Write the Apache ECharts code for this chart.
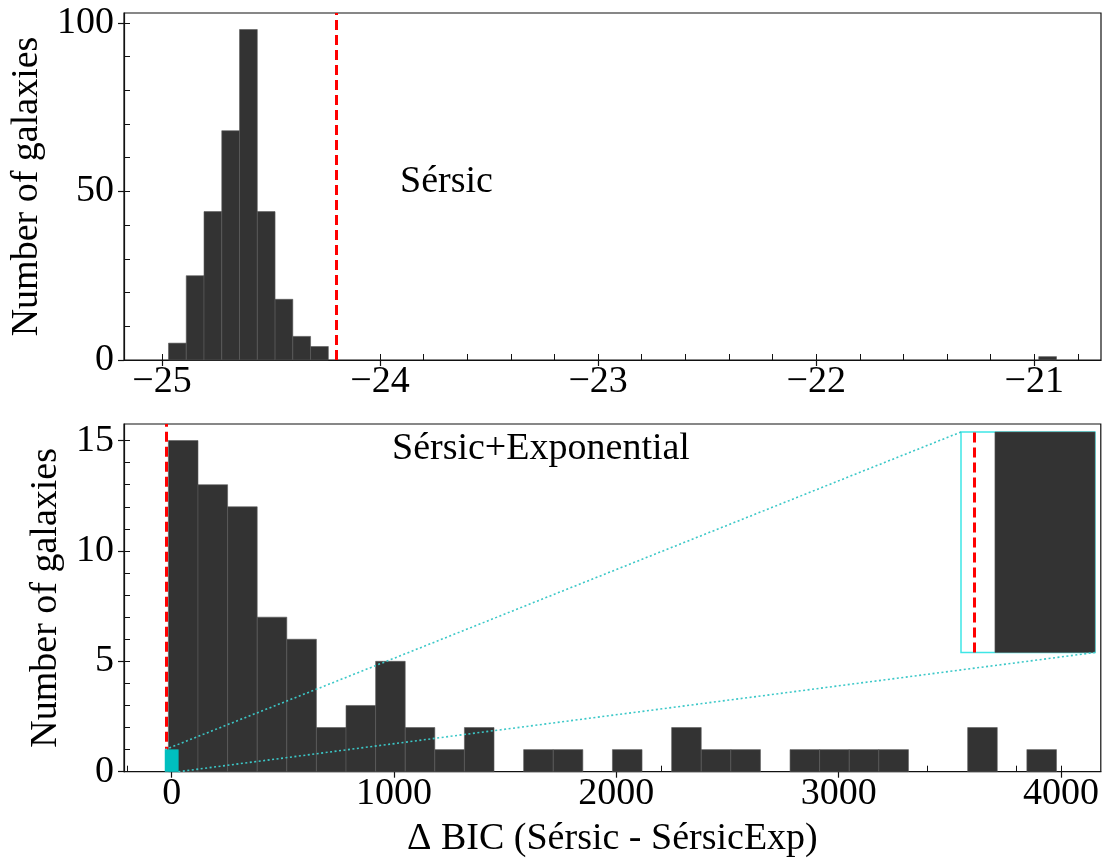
<!DOCTYPE html>
<html><head><meta charset="utf-8">
<script src="https://cdn.jsdelivr.net/npm/echarts@6/dist/echarts.min.js"></script>
<style>html,body{margin:0;padding:0;background:#fff}#c{width:1102px;height:864px}</style>
</head><body><div id="c"></div>
<script>
// ---------------- data ----------------
// Top panel: Delta BIC for galaxies preferring the single Sérsic model
const topBinRange = [-24.970, -20.898];          // histogram range (50 bins)
const topCounts = [5, 25, 44, 68, 98, 44, 18, 7, 4, 0,
                   0, 0, 0, 0, 0, 0, 0, 0, 0, 0,
                   0, 0, 0, 0, 0, 0, 0, 0, 0, 0,
                   0, 0, 0, 0, 0, 0, 0, 0, 0, 0,
                   0, 0, 0, 0, 0, 0, 0, 0, 0, 1];
const topXRange = [-25.174, -20.694];
const topYRange = [0, 102.9];
const topXTicks = [-25, -24, -23, -22, -21];
const topXMinor = [-25, -24.8, -24.6, -24.4, -24.2, -24, -23.8, -23.6, -23.4, -23.2, -23,
                   -22.8, -22.6, -22.4, -22.2, -22, -21.8, -21.6, -21.4, -21.2, -21, -20.8];
const topYTicks = [0, 50, 100];
const topYMinor = [0, 10, 20, 30, 40, 50, 60, 70, 80, 90, 100];

// Bottom panel: galaxies preferring Sérsic+Exponential
const botBinRange = [-14.8, 3979.6];             // histogram range (30 bins)
const botCounts = [15, 13, 12, 7, 6, 2, 3, 5, 2, 1,
                   2, 0, 1, 1, 0, 1, 0, 2, 1, 1,
                   0, 1, 1, 1, 1, 0, 0, 2, 0, 1];
const botXRange = [-214.5, 4179];
const botYRange = [0, 15.75];
const botXTicks = [0, 1000, 2000, 3000, 4000];
const botXMinor = [-200, 0, 200, 400, 600, 800, 1000, 1200, 1400, 1600, 1800, 2000, 2200,
                   2400, 2600, 2800, 3000, 3200, 3400, 3600, 3800, 4000];
const botYTicks = [0, 5, 10, 15];
const botYMinor = [0, 1, 2, 3, 4, 5, 6, 7, 8, 9, 10, 11, 12, 13, 14, 15];

// threshold line and zoom window
const threshold = -24.2;
const insetXRange = [-30, 30];
const insetYRange = [0, 1];

const topLabel = 'Sérsic';
const botLabel = 'Sérsic+Exponential';
const xTitle = 'Δ BIC (Sérsic - SérsicExp)';
const yTitle = 'Number of galaxies';

// ---------------- chart ----------------
const FONT = "'Liberation Serif','Times New Roman',serif";
const FS = 38;
const BAR = '#333333';
const EDGE = '#5a5a5a';
const RED = '#ff0000';

function mkBins(range, counts) {
  const n = counts.length, w = (range[1] - range[0]) / n;
  return counts.map((c, i) => [range[0] + i * w, range[0] + (i + 1) * w, c]);
}
function rectRender(fill, stroke, lw) {
  return function (params, api) {
    const x0 = api.value(0), x1 = api.value(1), c = api.value(2);
    const y0 = api.value(3) || 0;
    if (!(c > y0)) return;
    const p0 = api.coord([x0, y0]), p1 = api.coord([x1, c]);
    const cs = params.coordSys;
    const r = echarts.graphic.clipRectByRect(
      {x: p0[0], y: p1[1], width: p1[0] - p0[0], height: p0[1] - p1[1]},
      {x: cs.x, y: cs.y, width: cs.width, height: cs.height});
    if (!r) return;
    return {type: 'rect', shape: r, style: {fill: fill, stroke: stroke, lineWidth: lw}};
  };
}
const fmt = v => String(v).replace('-', '\u2212');

function majorX(grid, range, ticks, extra) {
  return Object.assign({
    type: 'value', gridIndex: grid, min: range[0], max: range[1], position: 'bottom',
    axisLine: {show: true, onZero: false, lineStyle: {color: '#111', width: 1.2}},
    axisTick: {show: true, inside: false, length: 6, customValues: ticks, lineStyle: {color: '#111', width: 1.2}},
    axisLabel: {show: true, customValues: ticks, margin: 3, formatter: fmt,
                fontFamily: FONT, fontSize: FS, color: '#000'},
    splitLine: {show: false}
  }, extra || {});
}
function minorX(grid, range, ticks) {
  return {
    type: 'value', gridIndex: grid, min: range[0], max: range[1], position: 'bottom',
    axisLine: {show: false, onZero: false},
    axisTick: {show: true, inside: true, length: 6, customValues: ticks, lineStyle: {color: '#111', width: 1}},
    axisLabel: {show: false}, splitLine: {show: false}
  };
}
function majorY(grid, range, ticks, gap) {
  return {
    type: 'value', gridIndex: grid, min: range[0], max: range[1], position: 'left',
    axisLine: {show: true, onZero: false, lineStyle: {color: '#111', width: 1.2}},
    axisTick: {show: true, inside: false, length: 6, customValues: ticks, lineStyle: {color: '#111', width: 1.2}},
    axisLabel: {show: true, customValues: ticks, margin: 10, formatter: fmt,
                fontFamily: FONT, fontSize: FS, color: '#000'},
    splitLine: {show: false},
    name: yTitle, nameLocation: 'middle', nameGap: gap,
    nameTextStyle: {fontFamily: FONT, fontSize: FS, color: '#000'}
  };
}
function minorY(grid, range, ticks) {
  return {
    type: 'value', gridIndex: grid, min: range[0], max: range[1], position: 'left',
    axisLine: {show: false, onZero: false},
    axisTick: {show: true, inside: true, length: 6, customValues: ticks, lineStyle: {color: '#111', width: 1}},
    axisLabel: {show: false}, splitLine: {show: false}
  };
}
function hiddenAxis(grid, range) {
  return {type: 'value', gridIndex: grid, min: range[0], max: range[1],
          axisLine: {show: false}, axisTick: {show: false}, axisLabel: {show: false}, splitLine: {show: false}};
}
function thresholdLine() {
  return {
    symbol: ['none', 'none'], silent: true, animation: false,
    label: {show: false}, emphasis: {disabled: true},
    lineStyle: {color: RED, type: [10, 5], width: 3, opacity: 1},
    data: [{xAxis: threshold}]
  };
}

const chart = echarts.init(document.getElementById('c'));
const option = {
  animation: false,
  backgroundColor: '#fff',
  grid: [
    {left: 124, top: 13, width: 977, height: 347, show: true, borderColor: '#111', borderWidth: 1.2, backgroundColor: 'transparent'},
    {left: 124, top: 424, width: 977, height: 347.7, show: true, borderColor: '#111', borderWidth: 1.2, backgroundColor: 'transparent'},
    {left: 961, top: 432, width: 134, height: 220.5, show: true, borderColor: '#3fe6e6', borderWidth: 1.5, backgroundColor: '#fff', z: 4}
  ],
  xAxis: [
    majorX(0, topXRange, topXTicks),
    minorX(0, topXRange, topXMinor),
    majorX(1, botXRange, botXTicks, {name: xTitle, nameLocation: 'middle', nameGap: 48,
      nameTextStyle: {fontFamily: FONT, fontSize: FS, color: '#000'}}),
    minorX(1, botXRange, botXMinor),
    hiddenAxis(2, insetXRange)
  ],
  yAxis: [
    majorY(0, topYRange, topYTicks, 74),
    minorY(0, topYRange, topYMinor),
    majorY(1, botYRange, botYTicks, 55),
    minorY(1, botYRange, botYMinor),
    hiddenAxis(2, insetYRange)
  ],
  series: [
    {type: 'custom', xAxisIndex: 0, yAxisIndex: 0, z: 2, silent: true,
     renderItem: rectRender(BAR, EDGE, 0.6), encode: {x: [0, 1], y: 2},
     data: mkBins(topBinRange, topCounts), markLine: thresholdLine()},
    {type: 'custom', xAxisIndex: 2, yAxisIndex: 2, z: 2, silent: true,
     renderItem: rectRender(BAR, EDGE, 0.6), encode: {x: [0, 1], y: 2},
     data: mkBins(botBinRange, botCounts), markLine: thresholdLine()},
    {type: 'custom', xAxisIndex: 2, yAxisIndex: 2, z: 6, silent: true,
     renderItem: rectRender('#00bfbf', '#00bfbf', 0.5), encode: {x: [0, 1], y: 2},
     data: [[insetXRange[0], insetXRange[1], insetYRange[1], insetYRange[0]]]},
    {type: 'custom', xAxisIndex: 4, yAxisIndex: 4, z: 6, silent: true,
     renderItem: rectRender(BAR, EDGE, 0.6), encode: {x: [0, 1], y: 2},
     data: mkBins(botBinRange, botCounts), markLine: thresholdLine()}
  ],
  graphic: [
    {type: 'text', left: 400, top: 163, silent: true,
     style: {text: topLabel, font: FS + 'px ' + FONT, fill: '#000'}},
    {type: 'text', left: 392, top: 430, silent: true,
     style: {text: botLabel, font: FS + 'px ' + FONT, fill: '#000'}}
  ]
};
chart.setOption(option);

// connector lines between the zoom window and the inset
const mainRef = {xAxisIndex: 2, yAxisIndex: 2};
const insetRef = {xAxisIndex: 4, yAxisIndex: 4};
const a1 = chart.convertToPixel(mainRef, [insetXRange[0], insetYRange[1]]);
const b1 = chart.convertToPixel(insetRef, [insetXRange[0], insetYRange[1]]);
const a2 = chart.convertToPixel(mainRef, [insetXRange[1], insetYRange[0]]);
const b2 = chart.convertToPixel(insetRef, [insetXRange[1], insetYRange[0]]);
const conn = (p, q) => ({type: 'line', silent: true, z: 50,
  shape: {x1: p[0], y1: p[1], x2: q[0], y2: q[1]},
  style: {stroke: '#3cc8c8', lineWidth: 1.6, lineDash: [2, 2.5]}});
chart.setOption({graphic: option.graphic.concat([conn(a1, b1), conn(a2, b2)])});
</script>
</body></html>
